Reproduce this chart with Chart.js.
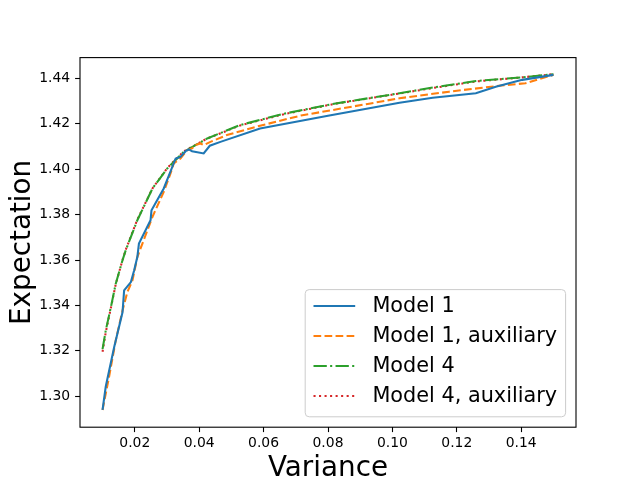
<!DOCTYPE html>
<html>
<head>
<meta charset="utf-8">
<script src="https://cdn.jsdelivr.net/npm/chart.js@4/dist/chart.umd.min.js"></script>
<style>
  html, body { margin: 0; padding: 0; background: #fff; }
  canvas { display: block; }
</style>
</head>
<body>
<canvas id="chart" width="640" height="480"></canvas>
<script>
// values
const model1Var = [0.0100, 0.0110, 0.0136, 0.0162, 0.0167, 0.0188, 0.0198, 0.0208, 0.0213, 0.0249, 0.0252, 0.0290, 0.0327, 0.0342, 0.0358, 0.0368, 0.0378, 0.0414, 0.0433, 0.0466, 0.0589, 0.0800, 0.1022, 0.1125, 0.1259, 0.1321, 0.1403, 0.1500];
const model1Exp = [1.2940, 1.3043, 1.3216, 1.3370, 1.3466, 1.3503, 1.3554, 1.3613, 1.3672, 1.3775, 1.3819, 1.3915, 1.4047, 1.4054, 1.4079, 1.4087, 1.4079, 1.4069, 1.4103, 1.4120, 1.4179, 1.4235, 1.4292, 1.4314, 1.4334, 1.4363, 1.4393, 1.4415];

const model1AuxVar = [0.0100, 0.0120, 0.0141, 0.0162, 0.0177, 0.0193, 0.0208, 0.0255, 0.0290, 0.0311, 0.0321, 0.0342, 0.0363, 0.0378, 0.0388, 0.0404, 0.0414, 0.0435, 0.0486, 0.0589, 0.0716, 0.0923, 0.1022, 0.1176, 0.1331, 0.1413, 0.1500];
const model1AuxExp = [1.2940, 1.3084, 1.3246, 1.3378, 1.3459, 1.3511, 1.3613, 1.3790, 1.3900, 1.3981, 1.4025, 1.4047, 1.4084, 1.4091, 1.4106, 1.4113, 1.4106, 1.4120, 1.4150, 1.4191, 1.4236, 1.4287, 1.4312, 1.4341, 1.4367, 1.4378, 1.4415];

const model4Var = [0.0100, 0.0110, 0.0126, 0.0141, 0.0162, 0.0172, 0.0208, 0.0255, 0.0301, 0.0352, 0.0425, 0.0527, 0.0663, 0.0819, 0.1022, 0.1125, 0.1259, 0.1403, 0.1500];
const model4Exp = [1.3208, 1.3290, 1.3393, 1.3496, 1.3599, 1.3643, 1.3775, 1.3915, 1.4003, 1.4076, 1.4135, 1.4194, 1.4244, 1.4288, 1.4334, 1.4359, 1.4388, 1.4404, 1.4418];

const model4AuxVar = [0.0100, 0.0110, 0.0126, 0.0141, 0.0162, 0.0172, 0.0208, 0.0255, 0.0301, 0.0352, 0.0425, 0.0527, 0.0663, 0.0819, 0.1022, 0.1125, 0.1259, 0.1403, 0.1500];
const model4AuxExp = [1.3196, 1.3282, 1.3390, 1.3494, 1.3600, 1.3645, 1.3778, 1.3915, 1.4005, 1.4078, 1.4135, 1.4192, 1.4242, 1.4287, 1.4333, 1.4357, 1.4386, 1.4404, 1.4418];

const seriesNames = ['Model 1', 'Model 1, auxiliary', 'Model 4', 'Model 4, auxiliary'];
const xTicks = [0.02, 0.04, 0.06, 0.08, 0.10, 0.12, 0.14];
const yTicks = [1.30, 1.32, 1.34, 1.36, 1.38, 1.40, 1.42, 1.44];

const FONT = 'DejaVu Sans';
const LW = 2.08;  // 1.5pt at 100 dpi

function toPoints(xs, ys) {
    return xs.map((x, i) => ({ x: x, y: ys[i] }));
}

function lineSet(label, xs, ys, color, dash) {
    return {
        label: label,
        data: toPoints(xs, ys),
        borderColor: color,
        backgroundColor: color,
        borderWidth: LW,
        borderDash: dash,
        pointRadius: 0,
        showLine: true,
        tension: 0,
        fill: false
    };
}

const datasets = [
    lineSet(seriesNames[0], model1Var, model1Exp, '#1f77b4', []),
    lineSet(seriesNames[1], model1AuxVar, model1AuxExp, '#ff7f0e', [7.7, 3.33]),
    lineSet(seriesNames[2], model4Var, model4Exp, '#2ca02c', [13.3, 3.33, 2.08, 3.33]),
    lineSet(seriesNames[3], model4AuxVar, model4AuxExp, '#d62728', [2.08, 3.44])
];

// frame round the plot and the legend box in the lower right
const frameAndLegend = {
    id: 'frameAndLegend',
    afterDraw(chart) {
        const c = chart.ctx;
        const a = chart.chartArea;
        c.save();
        c.strokeStyle = '#000';
        c.lineWidth = 1.1;
        c.setLineDash([]);
        c.strokeRect(a.left, a.top, a.right - a.left, a.bottom - a.top);

        const boxRight = a.right - 10.4;
        const boxBottom = a.bottom - 10.4;
        const boxLeft = 305.2;
        const boxTop = 289.6;
        c.beginPath();
        c.roundRect(boxLeft, boxTop, boxRight - boxLeft, boxBottom - boxTop, 4);
        c.fillStyle = 'rgba(255,255,255,0.8)';
        c.fill();
        c.strokeStyle = '#cccccc';
        c.lineWidth = 1;
        c.stroke();

        c.font = '20.8px "' + FONT + '"';
        c.textBaseline = 'middle';
        c.textAlign = 'left';
        datasets.forEach((ds, i) => {
            const y = 306 + i * 30;
            c.beginPath();
            c.setLineDash(ds.borderDash);
            c.strokeStyle = ds.borderColor;
            c.lineWidth = LW;
            c.moveTo(313.5, y);
            c.lineTo(355.2, y);
            c.stroke();
            c.setLineDash([]);
            c.fillStyle = '#000';
            c.fillText(ds.label, 372.4, y + 1);
        });
        c.restore();
    }
};

new Chart(document.getElementById('chart'), {
    type: 'scatter',
    data: { datasets: datasets },
    options: {
        responsive: false,
        animation: false,
        layout: { padding: { top: 57.6, right: 64, left: 0, bottom: 0 } },
        plugins: {
            legend: { display: false },
            tooltip: { enabled: false }
        },
        scales: {
            x: {
                type: 'linear',
                min: 0.003,
                max: 0.157,
                afterBuildTicks: (scale) => { scale.ticks = xTicks.map(v => ({ value: v })); },
                afterFit: (scale) => { scale.height = 52.8; },
                ticks: {
                    color: '#000',
                    font: { family: FONT, size: 13.9 },
                    padding: 3,
                    maxRotation: 0,
                    callback: (v) => Number(v).toFixed(2)
                },
                grid: {
                    drawOnChartArea: false,
                    drawTicks: true,
                    tickLength: 4.9,
                    tickWidth: 1.1,
                    tickColor: '#000',
                    color: '#000'
                },
                border: { display: false },
                title: {
                    display: true,
                    text: 'Variance',
                    color: '#000',
                    font: { family: FONT, size: 27.8, lineHeight: 1.0 },
                    padding: { top: 0, bottom: -3 }
                }
            },
            y: {
                type: 'linear',
                min: 1.2864,
                max: 1.4491,
                afterBuildTicks: (scale) => { scale.ticks = yTicks.map(v => ({ value: v })); },
                afterFit: (scale) => { scale.width = 80; },
                ticks: {
                    color: '#000',
                    font: { family: FONT, size: 13.9 },
                    padding: 4.9,
                    callback: (v) => Number(v).toFixed(2)
                },
                grid: {
                    drawOnChartArea: false,
                    drawTicks: true,
                    tickLength: 4.9,
                    tickWidth: 1.1,
                    tickColor: '#000',
                    color: '#000'
                },
                border: { display: false },
                title: {
                    display: true,
                    text: 'Expectation',
                    color: '#000',
                    font: { family: FONT, size: 27.8, lineHeight: 1.2 },
                    padding: { top: 6, bottom: 0 }
                }
            }
        }
    },
    plugins: [frameAndLegend]
});
</script>
</body>
</html>
